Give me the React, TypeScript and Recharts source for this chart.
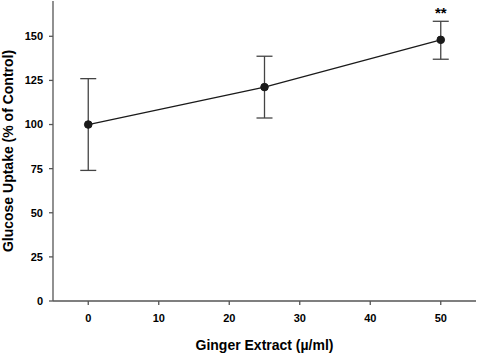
import React from 'react';
import { LineChart, Line, XAxis, YAxis, ErrorBar, LabelList } from 'recharts';

const doses = [0, 25, 50];
const uptake = [100, 121.2, 148];
const errors: [number, number][] = [
  [26, 26],
  [17.5, 17.5],
  [11, 10.5],
];
const significance = ['', '', '**'];
const xTicks = [0, 10, 20, 30, 40, 50];
const yTicks = [0, 25, 50, 75, 100, 125, 150];

const data = doses.map((d, i) => ({
  dose: d,
  uptake: uptake[i],
  err: errors[i],
  sig: significance[i],
}));

const FONT = '"Liberation Sans", Arial, sans-serif';
const AXIS = '#555';

const YLabel = (props: any) => {
  const vb = props.viewBox || { y: 1, height: 300 };
  const cy = vb.y + vb.height / 2;
  return (
    <text
      x={8}
      y={cy}
      transform={`rotate(-90, 8, ${cy})`}
      textAnchor="middle"
      dominantBaseline="central"
      fontFamily={FONT}
      fontWeight="bold"
      fontSize={14}
      fill="#000"
    >
      Glucose Uptake (% of Control)
    </text>
  );
};

const XLabel = (props: any) => {
  const vb = props.viewBox || { x: 53, width: 423 };
  const cx = vb.x + vb.width / 2;
  return (
    <text
      x={cx}
      y={350}
      textAnchor="middle"
      fontFamily={FONT}
      fontWeight="bold"
      fontSize={14}
      fill="#000"
    >
      Ginger Extract (µ/ml)
    </text>
  );
};

const tickStyle = { fontFamily: FONT, fontWeight: 'bold' as const, fontSize: 11, fill: '#000' };

export default function App() {
  return (
    <div style={{ position: 'absolute', left: 0, top: 0 }}>
      <LineChart width={478} height={354} data={data} margin={{ top: 1, right: 2, bottom: 0, left: 0 }}>
        <XAxis
          dataKey="dose"
          type="number"
          domain={[-5, 55]}
          ticks={xTicks}
          height={53}
          stroke={AXIS}
          strokeWidth={1.3}
          tickSize={4}
          tickMargin={9}
          tick={tickStyle}
          label={XLabel}
        />
        <XAxis
          xAxisId="top"
          orientation="top"
          type="number"
          domain={[-5, 55]}
          height={0}
          tick={false}
          tickLine={false}
          stroke={AXIS}
          strokeWidth={1.3}
        />
        <YAxis
          type="number"
          domain={[0, 170]}
          ticks={yTicks}
          width={53}
          stroke={AXIS}
          strokeWidth={1.3}
          tickSize={4}
          tickMargin={6}
          tick={tickStyle}
          label={YLabel}
        />
        <YAxis
          yAxisId="right"
          orientation="right"
          type="number"
          domain={[0, 170]}
          width={0}
          tick={false}
          tickLine={false}
          stroke={AXIS}
          strokeWidth={1.3}
        />
        <Line
          dataKey="uptake"
          stroke="#1a1a1a"
          strokeWidth={1.3}
          isAnimationActive={false}
          dot={{ r: 3.8, fill: '#1a1a1a', stroke: '#1a1a1a', strokeWidth: 1 }}
          activeDot={false}
        >
          <ErrorBar dataKey="err" width={8} stroke="#444" strokeWidth={1.3} direction="y" isAnimationActive={false} />
          <LabelList
            dataKey="sig"
            position="top"
            offset={22}
            style={{ fontFamily: FONT, fontWeight: 'bold', fontSize: 15, fill: '#000' }}
          />
        </Line>
      </LineChart>
    </div>
  );
}
